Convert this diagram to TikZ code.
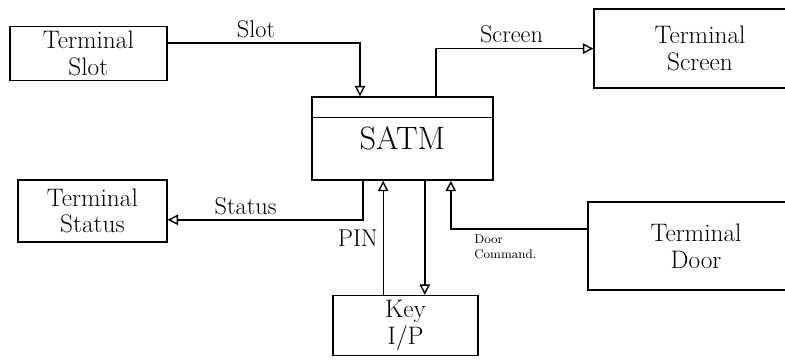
\documentclass[tikz,border=0pt]{standalone}
\usepackage{tikz}
\usetikzlibrary{arrows.meta, positioning}

\begin{document}
\begin{tikzpicture}[
    >={Triangle[open, length=2.6mm, width=2.6mm]},
    block/.style={draw, line width=1pt, rectangle, align=center, font=\fontsize{18}{19}\selectfont},
    flow/.style={->, line width=1pt},
    lbl/.style={font=\LARGE}
]
    \useasboundingbox (0,0) rectangle (19.625,9.025);

    % Blocos externos e o sistema
    \node[block, minimum width=3.925cm, minimum height=1.325cm] (slot) at (2.21,7.69) {Terminal\\Slot};
    \node[block, minimum width=5.3cm, minimum height=1.975cm] (screen) at (17.5,7.81) {Terminal\\Screen};
    \node[block, minimum width=4.525cm, minimum height=2.075cm, font=\fontsize{23}{25}\selectfont] (satm) at (10.06,5.56) {SATM};
    \node[block, minimum width=3.725cm, minimum height=1.55cm] (status) at (2.31,3.75) {Terminal\\Status};
    \node[block, minimum width=5.4cm, minimum height=2.2cm] (door) at (17.4,2.875) {Terminal\\Door};
    \node[block, minimum width=3.625cm, minimum height=1.475cm] (key) at (10.14,0.89) {Key\\I/P};

    % Linha do cabeçalho
    \draw[line width=1pt] ([yshift=-0.53cm]satm.north west) -- ([yshift=-0.53cm]satm.north east);

    % Fluxos de entrada e saída
    \draw[flow] ([yshift=0.26cm]slot.east) -| node[lbl, above, pos=0.23] {Slot} ([xshift=-1.06cm]satm.north);
    \draw[flow] ([xshift=0.84cm]satm.north) |- node[lbl, above, pos=0.74] {Screen} (screen.west);
    \draw[flow] ([xshift=-0.99cm]satm.south) |- node[lbl, above, pos=0.8] {Status} ([yshift=-0.22cm]status.east);
    \draw[flow] ([xshift=-0.56cm]key.north) -- node[lbl, left] {PIN} ([xshift=-0.56cm]key.north |- satm.south);
    \draw[flow] ([xshift=0.56cm]satm.south) -- ([xshift=0.56cm]satm.south |- key.north);
    \draw[flow] ([yshift=0.42cm]door.west) -| node[below, pos=0.3, align=left, font=\small] {Door\\Command.} ([xshift=1.21cm]satm.south);

\end{tikzpicture}
\end{document}
